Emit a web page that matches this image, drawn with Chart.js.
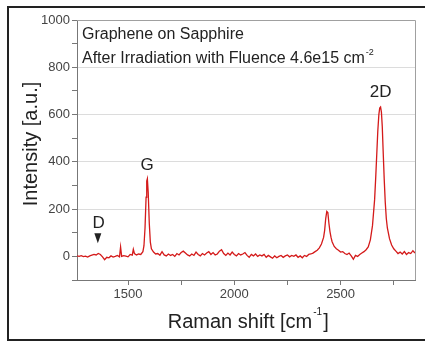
<!DOCTYPE html>
<html>
<head>
<meta charset="utf-8">
<script src="https://cdn.jsdelivr.net/npm/chart.js@4"></script>
<style>
  html, body { margin: 0; padding: 0; background: #fff; }
  #wrap { width: 425px; height: 342px; position: relative; }
</style>
</head>
<body>
<div id="wrap"><canvas id="raman"></canvas></div>
<script>
////////////////// Data ///////////////////////

// Raman shift (cm^-1)
const shifts = [
  1260, 1270, 1280, 1290, 1300, 1310, 1320, 1330, 1340, 1350,
  1360, 1370, 1380, 1390, 1400, 1410, 1420, 1430, 1440, 1450,
  1460, 1465, 1470, 1480, 1490, 1500, 1510, 1520, 1525, 1530,
  1540, 1550, 1560, 1570, 1575, 1580, 1585, 1588, 1591, 1595,
  1600, 1605, 1610, 1620, 1630, 1640, 1650, 1660, 1670, 1680,
  1690, 1700, 1710, 1720, 1730, 1740, 1750, 1760, 1770, 1780,
  1790, 1800, 1810, 1820, 1830, 1840, 1850, 1860, 1870, 1880,
  1890, 1900, 1910, 1920, 1930, 1940, 1950, 1960, 1970, 1980,
  1990, 2000, 2010, 2020, 2030, 2040, 2050, 2060, 2070, 2080,
  2090, 2100, 2110, 2120, 2130, 2140, 2150, 2160, 2170, 2180,
  2190, 2200, 2210, 2220, 2230, 2240, 2250, 2260, 2270, 2280,
  2290, 2300, 2310, 2320, 2330, 2340, 2350, 2360, 2370, 2380,
  2390, 2400, 2410, 2420, 2425, 2430, 2435, 2440, 2445, 2450,
  2455, 2460, 2470, 2480, 2490, 2500, 2510, 2520, 2530, 2540,
  2550, 2560, 2570, 2580, 2590, 2600, 2610, 2620, 2630, 2640,
  2650, 2660, 2665, 2670, 2675, 2680, 2684, 2688, 2692, 2696,
  2700, 2705, 2710, 2715, 2720, 2730, 2740, 2750, 2760, 2770,
  2780, 2790, 2800, 2810, 2820, 2830, 2840, 2850
];

// Intensity (a.u.)
const intensity = [
  2, 0, 3, -1, 1, -3, 2, 5, 8, 6,
  12, 8, -2, -14, -4, -6, 2, -3, 0, 4,
  -2, 40, 0, 3, 1, -2, 8, 5, 30, 12,
  6, 10, 8, 20, 45, 120, 250, 318, 328, 270,
  140, 60, 32, 18, 10, 12, 5, 20, 6, 2,
  10, 4, 8, 0, 12, 6, 16, 22, 14, 6,
  2, 10, 4, 18, 8, 2, 12, 6, 14, 20,
  8, 16, 6, 10, 22, 28, 12, 4, 14, 6,
  18, 8, 2, 12, 6, 10, 16, 4, -4, 8,
  2, 10, 0, 6, 2, 8, -4, 4, -2, -8,
  2, -6, 0, 4, -4, 2, 6, -2, 4, 0,
  6, -4, 2, -6, 4, 0, 8, 10, 14, 20,
  26, 36, 52, 80, 110, 160, 190, 185, 140, 105,
  80, 62, 42, 32, 26, 18, 20, 12, 8, 14,
  2, -12, 4, 0, 8, 14, 20, 28, 40, 70,
  130, 240, 330, 430, 530, 600, 628, 632, 610, 550,
  450, 330, 230, 160, 120, 75, 48, 32, 22, 12,
  18, 10, 20, 8, 16, 12, 24, 14
];

const xTicks = [1500, 2000, 2500];
const yTicks = [0, 200, 400, 600, 800, 1000];

// peak labels: [shift, intensity, text]
const peakLabels = [
  [1362, 120, "D"],
  [1590, 365, "G"],
  [2688, 675, "2D"]
];

////////////////// Plugins ///////////////////////

const FONT = "'Liberation Sans', Arial, sans-serif";

const decorations = {
  id: "decorations",
  beforeDraw(chart) {
    const { ctx } = chart;
    ctx.save();
    ctx.fillStyle = "#fff";
    ctx.fillRect(0, 0, chart.width, chart.height);
    ctx.restore();
  },
  afterDraw(chart) {
    const { ctx, chartArea: a, scales } = chart;
    ctx.save();

    // plot frame (top & right)
    ctx.strokeStyle = "#a0a0a0";
    ctx.lineWidth = 1;
    ctx.beginPath();
    ctx.moveTo(a.left, a.top + 0.5);
    ctx.lineTo(a.right + 0.5, a.top + 0.5);
    ctx.lineTo(a.right + 0.5, a.bottom);
    ctx.stroke();

    // outer border
    ctx.strokeStyle = "#222";
    ctx.lineWidth = 2;
    ctx.beginPath();
    ctx.moveTo(425, 7);
    ctx.lineTo(8, 7);
    ctx.lineTo(8, 340);
    ctx.lineTo(425, 340);
    ctx.stroke();

    // annotation text
    ctx.fillStyle = "#222";
    ctx.textBaseline = "alphabetic";
    ctx.textAlign = "left";
    ctx.font = "16px " + FONT;
    ctx.fillText("Graphene on Sapphire", 82, 39);
    const line2 = "After Irradiation with Fluence 4.6e15 cm";
    ctx.fillText(line2, 82, 63);
    const w2 = ctx.measureText(line2).width;
    ctx.font = "9px " + FONT;
    ctx.fillText("-2", 82 + w2 + 1, 55);

    // peak labels
    ctx.font = "17px " + FONT;
    ctx.textAlign = "center";
    peakLabels.forEach(([sx, sy, t]) => {
      ctx.fillText(t, scales.x.getPixelForValue(sx), scales.y.getPixelForValue(sy));
    });

    // D arrow
    const ax = scales.x.getPixelForValue(1358);
    const ay = scales.y.getPixelForValue(98);
    ctx.beginPath();
    ctx.moveTo(ax - 3.5, ay);
    ctx.lineTo(ax + 3.5, ay);
    ctx.lineTo(ax, ay + 10);
    ctx.closePath();
    ctx.fill();

    // axis titles
    ctx.font = "20px " + FONT;
    ctx.textAlign = "center";
    ctx.textBaseline = "middle";
    ctx.save();
    ctx.translate(31, 144);
    ctx.rotate(-Math.PI / 2);
    ctx.fillText("Intensity [a.u.]", 0, 0);
    ctx.restore();

    const xt = "Raman shift [cm";
    const xw = ctx.measureText(xt).width;
    const x0 = 240 - xw / 2;
    ctx.textAlign = "left";
    ctx.fillText(xt, x0, 322);
    ctx.font = "10px " + FONT;
    ctx.fillText("-1", x0 + xw + 1, 312);
    const sw = ctx.measureText("-1").width;
    ctx.font = "20px " + FONT;
    ctx.fillText("]", x0 + xw + sw + 2, 322);

    ctx.restore();
  }
};

////////////////// Chart ///////////////////////

const points = shifts.map((s, i) => ({ x: s, y: intensity[i] }));

const ctx = document.getElementById("raman");
const myChart = new Chart(ctx, {
  type: "line",
  data: {
    datasets: [
      {
        data: points,
        borderColor: "#d41a1a",
        borderWidth: 1.3,
        pointRadius: 0,
        tension: 0,
        fill: false,
      },
    ],
  },
  options: {
    responsive: true,
    maintainAspectRatio: false,
    animation: false,
    layout: {
      padding: { left: 0, top: 20, right: 10, bottom: 0 },
    },
    scales: {
      x: {
        type: "linear",
        min: 1260,
        max: 2850,
        afterFit(scale) { scale.height = 62; },
        afterBuildTicks(scale) {
          const t = [];
          for (let v = 1250; v <= 2850; v += 250) if (v >= 1260) t.push({ value: v });
          scale.ticks = t;
        },
        ticks: {
          color: "#444",
          font: { size: 13, family: FONT },
          padding: 2,
          autoSkip: false,
          maxRotation: 0,
          callback: (v) => (xTicks.includes(v) ? String(v) : ""),
        },
        grid: {
          display: true,
          drawOnChartArea: false,
          drawTicks: true,
          tickLength: 5,
          color: "#777",
        },
        border: { color: "#777", width: 1 },
      },
      y: {
        min: -100,
        max: 1000,
        afterFit(scale) { scale.width = 77; },
        afterBuildTicks(scale) {
          const t = [];
          for (let v = -100; v <= 1000; v += 100) t.push({ value: v });
          scale.ticks = t;
        },
        ticks: {
          color: "#444",
          font: { size: 13, family: FONT },
          padding: 2,
          autoSkip: false,
          callback: (v) => (yTicks.includes(v) ? String(v) : ""),
        },
        grid: {
          display: true,
          drawTicks: true,
          tickLength: 5,
          color: (c) => {
            const v = c.tick && c.tick.value;
            return [200, 400, 600, 800].includes(v) ? "#dcdcdc" : "rgba(0,0,0,0)";
          },
          tickColor: "#777",
        },
        border: { color: "#777", width: 1 },
      },
    },
    plugins: {
      legend: { display: false },
      tooltip: { enabled: false },
    },
  },
  plugins: [decorations],
});
</script>
</body>
</html>
